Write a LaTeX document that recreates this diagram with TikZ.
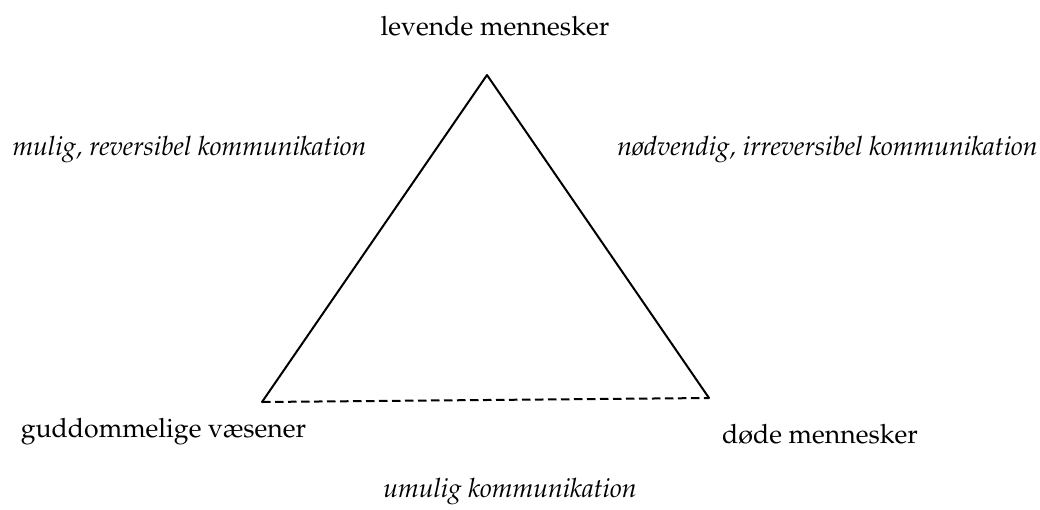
\documentclass[tikz,border=0pt]{standalone}
\usepackage[T1]{fontenc}
\usepackage{mathpazo}
\tikzset{
  lbl/.style={inner sep=0pt, anchor=base, font=\fontsize{26.6}{32}\selectfont},
  ilbl/.style={lbl, font=\fontsize{26.6}{32}\selectfont\itshape},
  edge/.style={line width=2pt, line cap=round, line join=round},
  dashedge/.style={line width=2pt, dash pattern=on 8.5pt off 4.5pt},
}
\begin{document}
\begin{tikzpicture}[x=1pt,y=-1pt]
\useasboundingbox (0,0) rectangle (1040,509);
\coordinate (top) at (487,75);
\coordinate (left) at (262,402);
\coordinate (right) at (709,398);
\draw[edge] (left) -- (top) -- (right);
\draw[dashedge] (left) -- (right);
\node[lbl] (lm) at (495,35) {levende mennesker};
\node[ilbl] (mr) at (189.5,155) {mulig, reversibel kommunikation};
\node[ilbl] (ni) at (827.5,155) {nødvendig, irreversibel kommunikation};
\node[lbl] (gv) at (163.5,437) {guddommelige væsener};
\node[lbl] (dm) at (820,443) {døde mennesker};
\node[ilbl] (uk) at (510,497) {umulig kommunikation};
\end{tikzpicture}
\end{document}
